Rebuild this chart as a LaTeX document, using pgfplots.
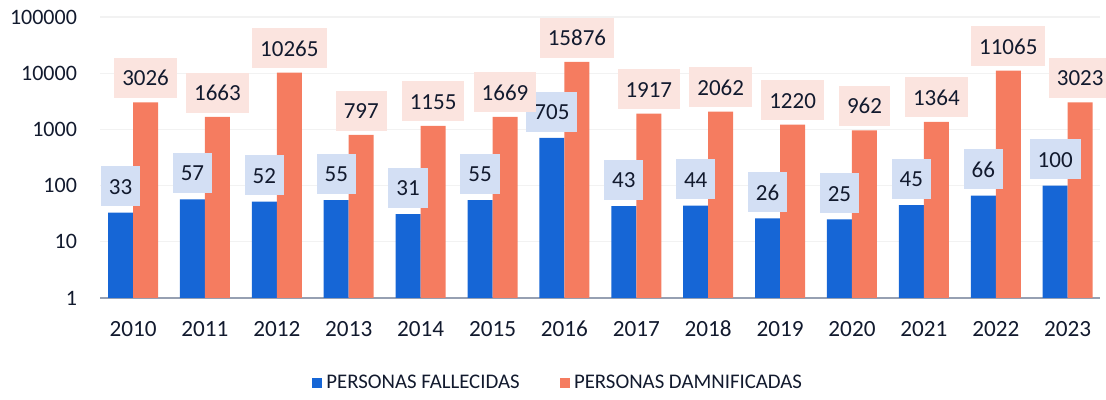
\documentclass[border=0pt]{standalone}
\usepackage{pgfplots}
\pgfplotsset{compat=1.18}
\usepackage{fontspec}
\setmainfont{Carlito}
\definecolor{barblue}{RGB}{22,102,214}
\definecolor{barorange}{RGB}{245,124,96}
\definecolor{lblblue}{RGB}{211,223,244}
\definecolor{lblpink}{RGB}{251,228,223}
\definecolor{txtdark}{RGB}{18,26,46}
\definecolor{basegray}{RGB}{150,160,178}
\begin{document}
\begin{tikzpicture}
\path[use as bounding box] (0,0) rectangle (553pt,200pt);
\begin{axis}[
  at={(50pt,51pt)}, anchor=south west,
  scale only axis, width=500pt, height=140.5pt,
  ymode=log, ymin=1, ymax=100000,
  xmin=-0.46, xmax=13.45,
  ybar=0pt, bar width=12.5pt,
  clip=false,
  axis x line=bottom, axis y line=left,
  x axis line style={-, draw=basegray, line width=1.3pt},
  y axis line style={draw=none},
  major tick length=0pt, minor tick num=0,
  ytick={1,10,100,1000,10000,100000},
  yticklabels={1,10,100,1000,10000,100000},
  yminorticks=false,
  ymajorgrids, major grid style={draw=gray!10, line width=0.6pt},
  xtick={0,...,13},
  xticklabels={2010,2011,2012,2013,2014,2015,2016,2017,2018,2019,2020,2021,2022,2023},
  yticklabel style={font=\fontsize{11}{13}\selectfont, text=txtdark, xshift=-8pt},
  xticklabel style={font=\fontsize{11.6}{13}\selectfont, text=txtdark, yshift=-8pt},
  legend style={at={(0.459,-0.302)}, anchor=center, draw=none, fill=none,
    legend columns=2, font=\fontsize{10.4}{12}\selectfont, text=txtdark,
    /tikz/every even column/.append style={column sep=18pt}},
  legend image code/.code={\fill[#1] (0pt,-2.6pt) rectangle (5.2pt,2.6pt);},
  point meta=explicit symbolic,
  nodes near coords={\pgfplotspointmeta},
]
\addplot[fill=barblue, draw=none,
  every node near coord/.append style={fill=lblblue, text=txtdark, anchor=south, yshift=3pt,
    font=\fontsize{11.5}{13}\selectfont, inner xsep=4pt, inner ysep=6pt, text height=8pt, text depth=0pt}]
coordinates {
 (0,33)[33] (1,57)[57] (2,52)[52] (3,55)[55] (4,31)[31] (5,55)[55] (6,705)[705]
 (7,43)[43] (8,44)[44] (9,26)[26] (10,25)[25] (11,45)[45] (12,66)[66] (13,100)[100]
};
\addplot[fill=barorange, draw=none,
  every node near coord/.append style={fill=lblpink, text=txtdark, anchor=south, yshift=2pt,
    font=\fontsize{11.5}{13}\selectfont, inner xsep=4pt, inner ysep=6pt, text height=8pt, text depth=0pt}]
coordinates {
 (0,3026)[3026] (1,1663)[1663] (2,10265)[10265] (3,797)[797] (4,1155)[1155] (5,1669)[1669] (6,15876)[15876]
 (7,1917)[1917] (8,2062)[2062] (9,1220)[1220] (10,962)[962] (11,1364)[1364] (12,11065)[11065] (13,3023)[3023]
};
\legend{PERSONAS FALLECIDAS, PERSONAS DAMNIFICADAS}
\end{axis}
\end{tikzpicture}
\end{document}
